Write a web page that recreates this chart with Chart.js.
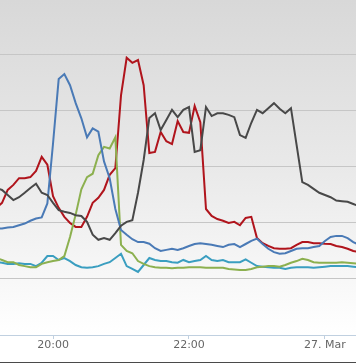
<!DOCTYPE html>
<html>
<head>
<meta charset="utf-8">
<script src="https://cdn.jsdelivr.net/npm/chart.js@4/dist/chart.umd.min.js"></script>
<style>
  html, body { margin: 0; padding: 0; background: #fff; }
  #wrap { width: 356px; height: 364px; }
</style>
</head>
<body>
<div id="wrap"><canvas id="c" width="356" height="364"></canvas></div>
<script>
// Categories: 5-minute timestamps (26 -> 27 March)
const times = [
  "19:10","19:15","19:20","19:25","19:30","19:35","19:40","19:45","19:50","19:55",
  "20:00","20:05","20:10","20:15","20:20","20:25","20:30","20:35","20:40","20:45","20:50","20:55",
  "21:00","21:05","21:10","21:15","21:20","21:25","21:30","21:35","21:40","21:45","21:50","21:55",
  "22:00","22:05","22:10","22:15","22:20","22:25","22:30","22:35","22:40","22:45","22:50","22:55",
  "23:00","23:05","23:10","23:15","23:20","23:25","23:30","23:35","23:40","23:45","23:50","23:55",
  "00:00","00:05","00:10","00:15","00:20","00:25","00:30"
];

// Series values
const blueSeries = [19.0,19.0,19.2,19.3,19.6,19.9,20.4,20.8,21.0,23.5,
  34.2,45.7,46.6,44.6,41.4,38.7,35.3,36.9,36.3,31.0,28.0,22.5,
  18.75,17.9,17.1,16.6,16.6,16.3,15.5,15.0,15.2,15.4,15.2,15.5,
  15.9,16.25,16.4,16.25,16.1,15.9,15.7,16.1,16.25,15.7,16.25,16.8,
  17.2,16.25,15.4,14.8,14.5,14.6,15.0,15.4,15.5,15.5,15.7,15.9,
  16.8,17.5,17.7,17.7,17.3,16.6,16.1];

const greySeries = [26.25,25.9,25.0,24.1,24.6,25.4,26.25,27.0,25.4,25.0,
  23.6,22.3,22.0,21.8,21.4,21.25,20.2,17.9,17.0,17.3,17.0,18.2,
  19.5,20.2,20.5,25.4,31.25,38.75,39.6,36.6,38.4,40.2,38.9,40.2,
  40.7,32.7,33.0,40.7,39.1,39.6,39.6,39.3,38.9,35.7,35.2,37.9,
  40.2,39.6,40.5,41.4,40.4,39.6,40.5,33.9,27.3,26.8,26.1,25.4,
  25.0,24.6,24.0,23.9,23.8,23.4,23.0];

const redSeries = [22.7,23.6,25.9,26.8,28.0,28.0,28.2,29.3,31.8,30.4,
  24.8,22.7,21.1,20.0,19.3,19.3,21.1,23.6,24.5,25.9,28.6,29.8,
  42.8,49.5,48.6,49.1,44.6,32.5,32.7,36.25,34.6,34.1,38.2,36.25,
  36.1,40.9,38.0,22.5,21.25,20.7,20.4,20.0,20.2,19.6,20.9,21.1,
  17.3,16.4,15.9,15.5,15.4,15.4,15.5,16.1,16.6,16.6,16.4,16.4,
  16.3,16.25,15.9,15.7,15.4,15.0,14.8];

const greenSeries = [13.75,13.4,13.0,13.0,12.5,12.3,12.1,12.1,12.7,13.0,
  13.2,13.4,14.1,17.5,21.5,26.0,28.2,28.8,32.1,33.6,33.3,35.3,
  16.1,15.0,14.6,13.2,12.7,12.3,12.1,12.0,12.0,11.9,12.0,12.0,
  12.1,12.1,12.1,12.0,12.0,12.0,12.0,11.8,11.7,11.6,11.6,11.8,
  12.1,12.2,12.3,12.3,12.2,12.5,12.9,13.2,13.6,13.4,13.0,12.9,
  12.9,12.9,12.9,13.0,12.9,12.8,12.7];

const tealSeries = [13.0,12.9,12.7,12.7,12.8,12.7,12.7,12.3,12.9,14.1,
  14.1,13.4,13.75,13.2,12.5,12.1,12.0,12.1,12.3,12.7,13.0,13.75,
  14.5,12.3,11.8,11.25,12.5,13.75,13.4,13.2,13.2,13.0,12.9,13.4,
  13.0,13.2,13.4,14.1,13.4,13.2,13.4,13.0,13.0,13.0,13.5,12.9,
  12.3,12.2,12.1,12.0,12.0,11.8,12.0,12.1,12.1,12.1,12.0,12.1,
  12.2,12.3,12.3,12.3,12.3,12.2,12.1];

// Tick labels
const tickTimes = ["20:00", "22:00", "00:00"];
const tickLabels = ["20:00", "22:00", "27. Mar"];

// --- helpers: time string -> minutes since 26 Mar 00:00
function toMinutes(t) {
  const [h, m] = t.split(":").map(Number);
  let v = h * 60 + m;
  if (h < 12) v += 1440;
  return v;
}
const xs = times.map(toMinutes);
const tickValues = tickTimes.map(toMinutes);
const pts = arr => arr.map((v, i) => ({ x: xs[i], y: v }));

const bgPlugin = {
  id: 'bg',
  beforeDraw(chart) {
    const { ctx, width, height, chartArea } = chart;
    ctx.save();
    ctx.fillStyle = '#ffffff';
    ctx.fillRect(0, 0, width, height);
    const g = ctx.createLinearGradient(0, 0, 0, chartArea.bottom);
    g.addColorStop(0, '#d8d8d8');
    g.addColorStop(0.5, '#e9e9e9');
    g.addColorStop(1, '#ffffff');
    ctx.fillStyle = g;
    ctx.fillRect(0, 0, width, chartArea.bottom);
    ctx.fillStyle = '#4a4a4a';
    ctx.fillRect(0, height - 2, width, 1);
    ctx.restore();
  }
};

const ds = (data, color) => ({
  data: pts(data),
  borderColor: color,
  borderWidth: 2,
  pointRadius: 0,
  tension: 0,
  fill: false
});

new Chart(document.getElementById('c'), {
  type: 'line',
  data: {
    datasets: [
      ds(greySeries, '#484848'),
      ds(blueSeries, '#4a7ab6'),
      ds(greenSeries, '#8cb04f'),
      ds(tealSeries, '#3a9ec0'),
      ds(redSeries, '#b0141c')
    ]
  },
  options: {
    responsive: false,
    animation: false,
    layout: { padding: { left: 0, right: 0, top: 0, bottom: 11.8 } },
    plugins: { legend: { display: false }, tooltip: { enabled: false } },
    scales: {
      x: {
        type: 'linear',
        min: 1153.2,
        max: 1467.4,
        afterBuildTicks(scale) {
          scale.ticks = tickValues.map(v => ({ value: v }));
        },
        ticks: {
          autoSkip: false,
          maxRotation: 0,
          padding: 0,
          color: '#666666',
          font: { family: 'DejaVu Sans', size: 11 },
          callback(value) {
            const i = tickValues.indexOf(value);
            return i >= 0 ? tickLabels[i] : '';
          }
        },
        grid: {
          drawOnChartArea: false,
          drawTicks: true,
          tickLength: 4,
          color: '#c0d0e0'
        },
        border: { display: true, color: '#c0d0e0', width: 1 }
      },
      y: {
        min: 0,
        max: 59.82,
        ticks: { display: false, stepSize: 10, includeBounds: false },
        grid: {
          drawTicks: false,
          color: c => (c.tick && c.tick.value === 0) ? 'rgba(0,0,0,0)' : '#c6c6c6',
          lineWidth: 1
        },
        border: { display: false }
      }
    }
  },
  plugins: [bgPlugin]
});
</script>
</body>
</html>
